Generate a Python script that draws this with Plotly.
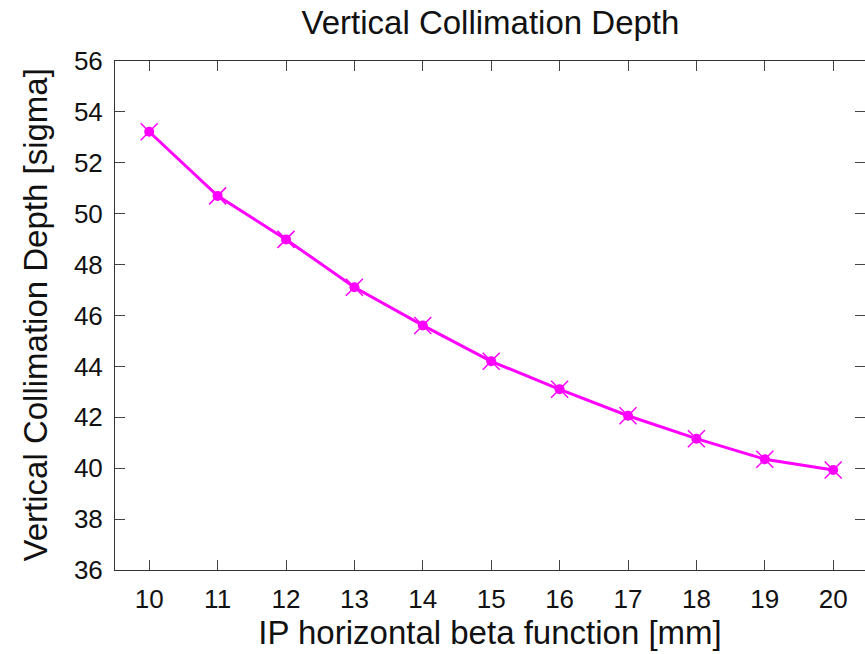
import plotly.graph_objects as go

# IP horizontal beta function [mm]
beta_x = [10, 11, 12, 13, 14, 15, 16, 17, 18, 19, 20]
# Vertical collimation depth [sigma]
depth = [53.22, 50.70, 48.99, 47.11, 45.61, 44.20, 43.10, 42.06, 41.16, 40.35, 39.93]

x_ticks = [10, 11, 12, 13, 14, 15, 16, 17, 18, 19, 20]
y_ticks = [36, 38, 40, 42, 44, 46, 48, 50, 52, 54, 56]

MAGENTA = "#ff00ff"
FONT = "Liberation Sans, Arial, sans-serif"
TEXT = "#111111"

fig = go.Figure()

# connecting line with filled circle points
fig.add_trace(go.Scatter(
    x=beta_x, y=depth, mode="lines+markers",
    line=dict(color=MAGENTA, width=3),
    marker=dict(symbol="circle", size=10, color=MAGENTA),
    showlegend=False, hoverinfo="skip",
))
# cross overlay on each point
fig.add_trace(go.Scatter(
    x=beta_x, y=depth, mode="markers",
    marker=dict(symbol="x-thin-open", size=17, color=MAGENTA,
                line=dict(color=MAGENTA, width=1.5)),
    showlegend=False,
))

axis_common = dict(
    showline=True, linecolor="#333333", linewidth=1, mirror="ticks",
    ticks="inside", ticklen=10, tickwidth=1.2, tickcolor="#444444",
    showgrid=False, zeroline=False,
    tickfont=dict(family=FONT, size=26, color=TEXT),
)

fig.update_layout(
    width=865, height=654,
    margin=dict(l=115, r=0, t=61, b=84),
    paper_bgcolor="white", plot_bgcolor="white",
    font=dict(family=FONT, color=TEXT),
    title=dict(text="Vertical Collimation Depth", x=0.567, xanchor="center",
               y=0.983, yanchor="top",
               font=dict(family=FONT, size=33, color=TEXT)),
    xaxis=dict(range=[9.5, 20.465], tickmode="array", tickvals=x_ticks,
               title=dict(text="IP horizontal beta function [mm]",
                          font=dict(family=FONT, size=33), standoff=4),
               ticklabelstandoff=6,
               **axis_common),
    yaxis=dict(range=[36, 56], tickmode="array", tickvals=y_ticks,
               ticklabelstandoff=6,
               **axis_common),
    annotations=[dict(
        text="Vertical Collimation Depth [sigma]",
        xref="paper", yref="paper", x=-80 / 750, y=0.5,
        xanchor="center", yanchor="middle", textangle=-90, showarrow=False,
        font=dict(family=FONT, size=33, color=TEXT),
    )],
)

fig.write_html("out.html")
